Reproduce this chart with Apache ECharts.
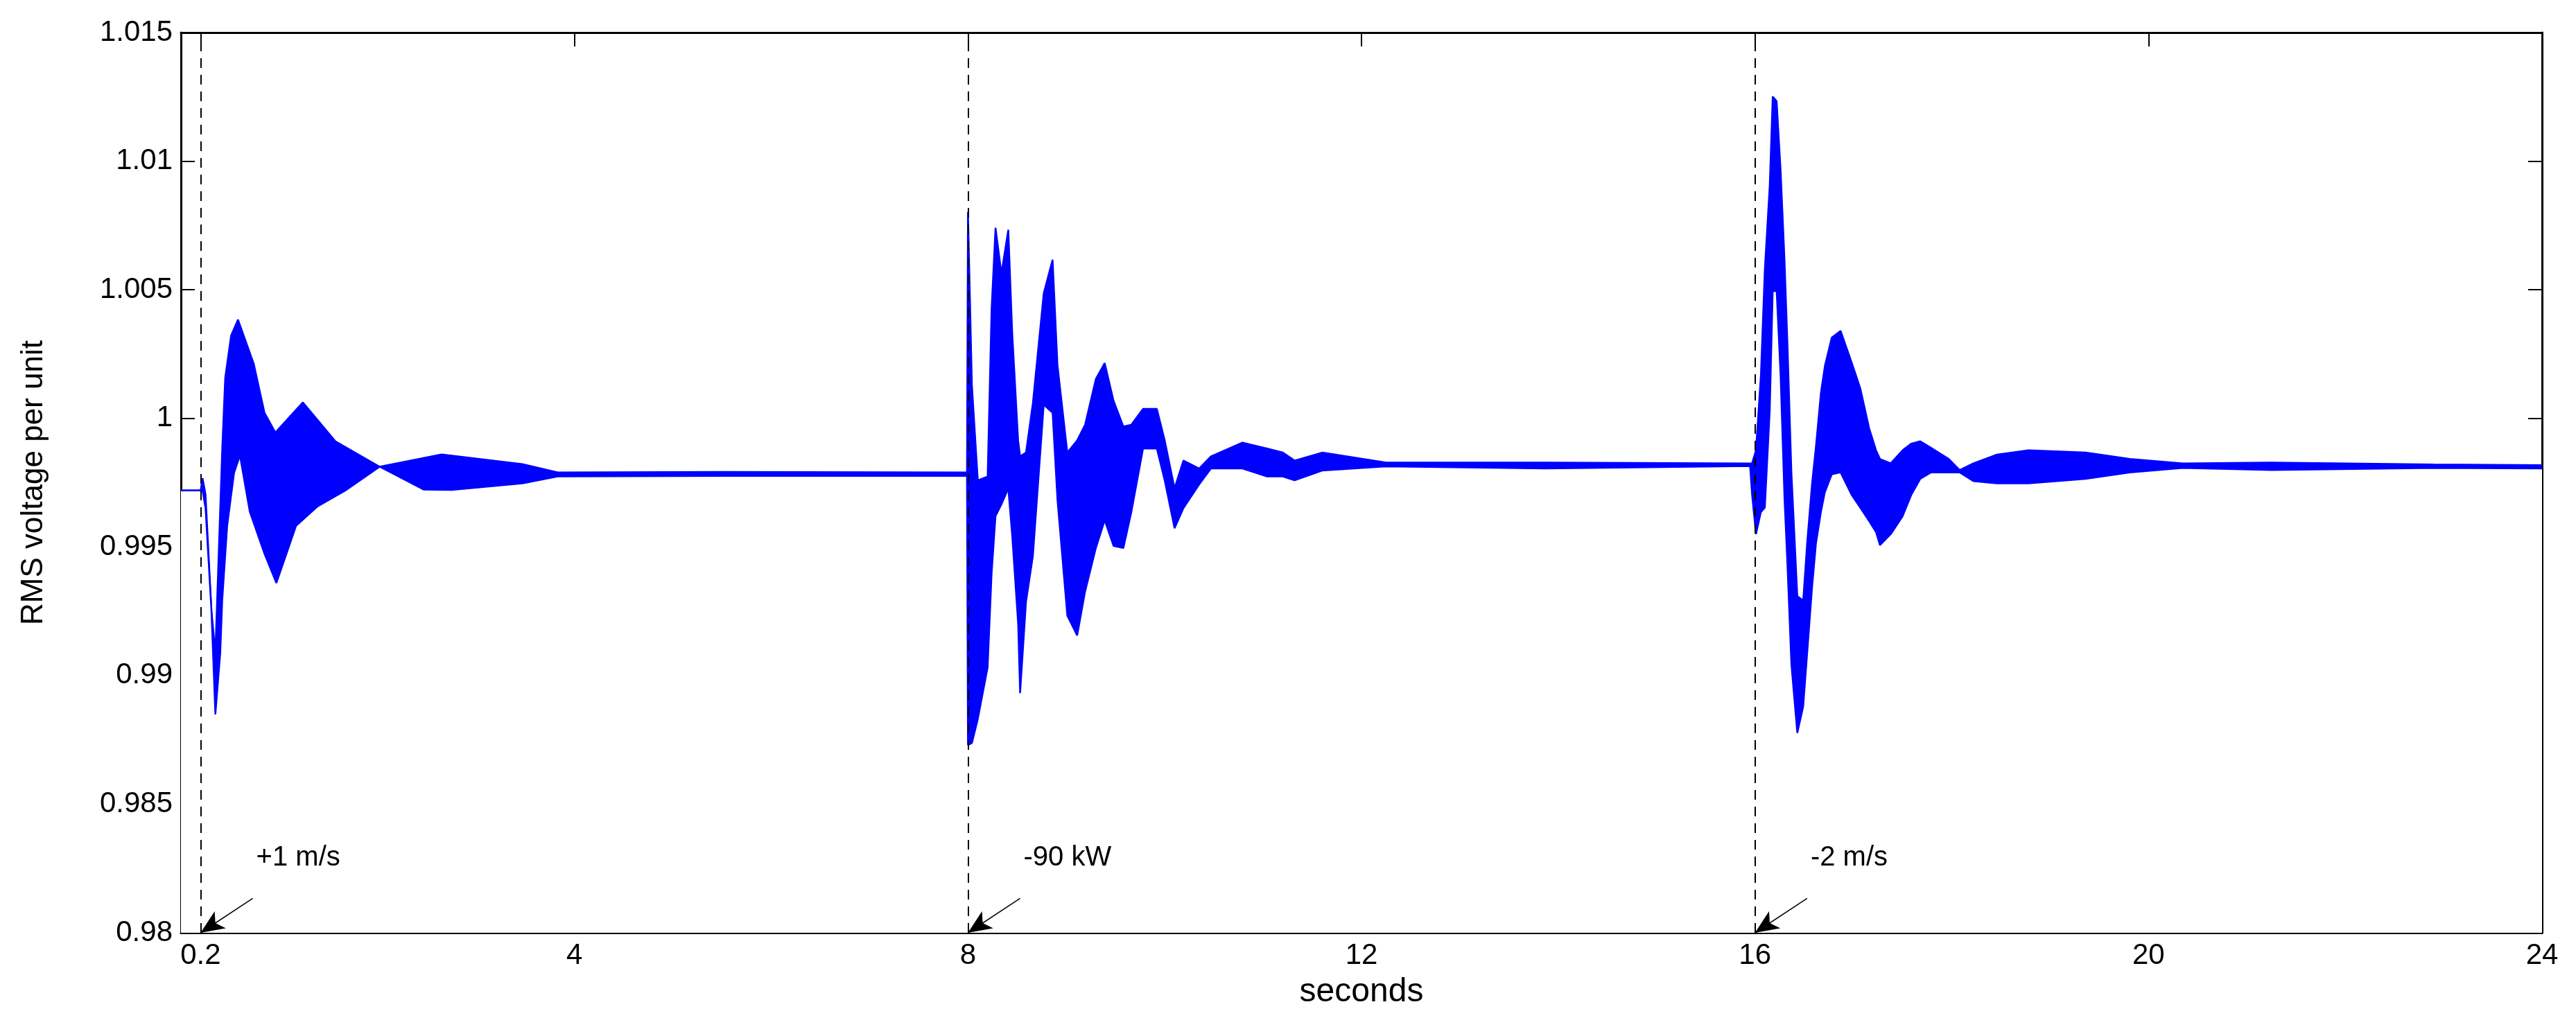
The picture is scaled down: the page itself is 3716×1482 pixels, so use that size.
<!DOCTYPE html>
<html>
<head>
<meta charset="utf-8">
<script src="https://cdn.jsdelivr.net/npm/echarts@6/dist/echarts.min.js"></script>
<style>
  html, body { margin: 0; padding: 0; background: #fff; }
  #chart { width: 3716px; height: 1482px; }
</style>
</head>
<body>
<div id="chart"></div>
<script>
// envelope of the RMS voltage: [seconds, per unit]
var upperEnv = [
  [0, 0.9972], [0.2, 0.9972], [0.22, 0.99767], [0.25, 0.99705], [0.31, 0.99253], [0.35, 0.99089],
  [0.42, 0.99884], [0.45, 1.00158], [0.51, 1.00322], [0.58, 1.00384], [0.74, 1.00212], [0.85, 1.00021],
  [0.96, 0.99945], [1.24, 1.00062], [1.57, 0.99911], [2.02, 0.99812], [2.65, 0.9986], [3.47, 0.99822],
  [3.83, 0.9979], [5.5, 0.99792], [7.99, 0.9979],
  [8.0, 1.00803], [8.04, 1.0013], [8.10, 0.99759], [8.20, 0.99774], [8.24, 1.00424], [8.28, 1.00741],
  [8.34, 1.00563], [8.41, 1.00733], [8.45, 1.00331], [8.51, 0.99914], [8.53, 0.99852], [8.59, 0.99867],
  [8.66, 1.0006], [8.77, 1.00486], [8.86, 1.00617], [8.91, 1.00207], [9.01, 0.99867], [9.11, 0.99914],
  [9.19, 0.99975], [9.30, 1.00153], [9.39, 1.00215], [9.48, 1.00068], [9.58, 0.99968], [9.66, 0.99975],
  [9.78, 1.00037], [9.92, 1.00037], [10.0, 0.99914], [10.10, 0.99728], [10.19, 0.99836], [10.35, 0.99805],
  [10.47, 0.99852], [10.79, 0.99906], [11.04, 0.99883], [11.2, 0.99867], [11.32, 0.99836], [11.6, 0.99867],
  [12.25, 0.99828], [13.87, 0.99828], [15.95, 0.99825],
  [15.97, 0.99825], [16.01, 0.99876], [16.06, 1.00168], [16.10, 1.00581], [16.15, 1.00907], [16.18, 1.01251],
  [16.22, 1.01233], [16.26, 1.00967], [16.30, 1.00615], [16.33, 1.00289], [16.37, 0.99790], [16.43, 0.99309],
  [16.49, 0.99292], [16.53, 0.99515], [16.58, 0.99747], [16.62, 0.99893], [16.67, 1.00099], [16.71, 1.00203],
  [16.78, 1.00314], [16.87, 1.0034], [16.98, 1.0022], [17.07, 1.00117], [17.16, 0.99962], [17.23, 0.99876],
  [17.27, 0.99842], [17.38, 0.99825], [17.50, 0.99876], [17.59, 0.99902], [17.68, 0.99911], [17.79, 0.99885],
  [17.97, 0.99842], [18.08, 0.99799], [18.22, 0.99825], [18.46, 0.99859], [18.78, 0.99876], [19.36, 0.99867],
  [19.81, 0.99842], [20.35, 0.99825], [21.25, 0.99828], [22.9, 0.99821], [24, 0.99818]
];
var lowerEnv = [
  [0, 0.9972], [0.2, 0.9972], [0.22, 0.99719], [0.25, 0.99651], [0.31, 0.99253], [0.35, 0.98849],
  [0.40, 0.99089], [0.42, 0.99295], [0.47, 0.99582], [0.54, 0.99788], [0.60, 0.99856], [0.70, 0.99637],
  [0.85, 0.99473], [0.97, 0.9936], [1.17, 0.99582], [1.39, 0.99658], [1.67, 0.99719], [2.02, 0.99812],
  [2.47, 0.99723], [2.75, 0.99722], [3.47, 0.99747], [3.83, 0.99774], [5.5, 0.99776], [7.99, 0.99776],
  [8.0, 0.9873], [8.04, 0.98738], [8.10, 0.98831], [8.20, 0.99032], [8.24, 0.99395], [8.28, 0.9962],
  [8.34, 0.99666], [8.41, 0.99728], [8.45, 0.99542], [8.51, 0.99202], [8.53, 0.98932], [8.59, 0.99287],
  [8.66, 0.99465], [8.77, 1.00053], [8.86, 1.00022], [8.91, 0.99682], [9.01, 0.99233], [9.11, 0.99156],
  [9.19, 0.99326], [9.30, 0.99496], [9.39, 0.99604], [9.48, 0.99504], [9.58, 0.99496], [9.66, 0.99635],
  [9.78, 0.99883], [9.92, 0.99883], [10.0, 0.99759], [10.10, 0.99573], [10.19, 0.99651], [10.35, 0.99743],
  [10.47, 0.99805], [10.79, 0.99805], [11.04, 0.99774], [11.2, 0.99774], [11.32, 0.99759], [11.6, 0.99797],
  [12.25, 0.99813], [13.87, 0.99805], [15.95, 0.99815],
  [15.97, 0.99704], [16.01, 0.9955], [16.06, 0.99636], [16.10, 0.99653], [16.15, 1.00031], [16.18, 1.00495],
  [16.22, 1.00495], [16.26, 1.00168], [16.30, 0.99687], [16.33, 0.99429], [16.37, 0.99043], [16.43, 0.98777],
  [16.49, 0.9888], [16.53, 0.99086], [16.58, 0.99343], [16.62, 0.99515], [16.67, 0.99636], [16.71, 0.99713],
  [16.78, 0.99782], [16.87, 0.9979], [16.98, 0.99704], [17.07, 0.99653], [17.16, 0.99601], [17.23, 0.99558],
  [17.27, 0.99507], [17.38, 0.9955], [17.50, 0.99619], [17.59, 0.99704], [17.68, 0.99765], [17.79, 0.9979],
  [17.97, 0.9979], [18.08, 0.9979], [18.22, 0.99756], [18.46, 0.99747], [18.78, 0.99747], [19.36, 0.99765],
  [19.81, 0.9979], [20.35, 0.99807], [21.25, 0.99799], [22.9, 0.99807], [24, 0.99805]
];

var xTicks = [0.2, 4, 8, 12, 16, 20, 24];
// step events: time, label
var events = [0.2, 8, 16];
var eventLabels = ['+1 m/s', '-90 kW', '-2 m/s'];

var chart = echarts.init(document.getElementById('chart'));

var tickStyle = { show: true, inside: true, length: 20, lineStyle: { color: '#000', width: 2 } };
var axisLineStyle = { show: true, onZero: false, lineStyle: { color: '#000', width: 3 } };

var markLines = [];
var markPoints = [];
events.forEach(function (t, i) {
  markLines.push([{ coord: [t, 0.98] }, { coord: [t, 1.015] }]);
  markLines.push([
    { coord: [t + 0.53, 0.98134], symbol: 'none', lineStyle: { type: 'solid', width: 1.5 } },
    { coord: [t, 0.98], symbol: 'arrow', symbolSize: [22, 34], lineStyle: { type: 'solid', width: 1.5 } }
  ]);
  markPoints.push({ coord: [t + 0.53, 0.9827], value: eventLabels[i] });
});

var option = {
  animation: false,
  backgroundColor: '#fff',
  textStyle: { fontFamily: 'Liberation Sans, Arial, sans-serif', color: '#000' },
  grid: { left: 261, right: 49, top: 47, bottom: 136 },
  xAxis: [{
    type: 'value', min: 0, max: 24,
    name: 'seconds', nameLocation: 'middle', nameGap: 62,
    nameTextStyle: { fontSize: 48, color: '#000' },
    axisLine: axisLineStyle,
    axisTick: Object.assign({ customValues: xTicks }, tickStyle),
    axisLabel: { customValues: xTicks, fontSize: 42, color: '#000', margin: 12 },
    splitLine: { show: false }
  }, {
    type: 'value', min: 0, max: 24, position: 'top',
    axisLine: axisLineStyle,
    axisTick: Object.assign({ customValues: xTicks }, tickStyle),
    axisLabel: { show: false }, splitLine: { show: false }
  }],
  yAxis: [{
    type: 'value', min: 0.98, max: 1.015, interval: 0.005,
    name: 'RMS voltage per unit', nameLocation: 'middle', nameGap: 190,
    nameTextStyle: { fontSize: 44, color: '#000' },
    axisLine: axisLineStyle,
    axisTick: tickStyle,
    axisLabel: { fontSize: 42, color: '#000', margin: 12 },
    splitLine: { show: false }
  }, {
    type: 'value', min: 0.98, max: 1.015, interval: 0.005, position: 'right',
    axisLine: axisLineStyle,
    axisTick: tickStyle,
    axisLabel: { show: false }, splitLine: { show: false }
  }],
  series: [{
    type: 'line', data: upperEnv, showSymbol: false, z: 2,
    lineStyle: { color: '#0000ff', width: 2.5 },
    areaStyle: { color: '#0000ff', opacity: 1, origin: 'start' }
  }, {
    type: 'line', data: lowerEnv, showSymbol: false, z: 3,
    lineStyle: { color: '#0000ff', width: 2.5 },
    areaStyle: { color: '#ffffff', opacity: 1, origin: 'start' }
  }, {
    type: 'line', data: [], z: 5,
    markLine: {
      silent: true, symbol: 'none', animation: false,
      lineStyle: { color: '#000', type: [14, 10], width: 2 },
      label: { show: false },
      data: markLines
    },
    markPoint: {
      symbol: 'circle', symbolSize: 0,
      label: { show: true, position: 'right', fontSize: 40, color: '#000', formatter: '{c}', offset: [0, -8] },
      data: markPoints
    }
  }]
};

chart.setOption(option);
</script>
</body>
</html>
